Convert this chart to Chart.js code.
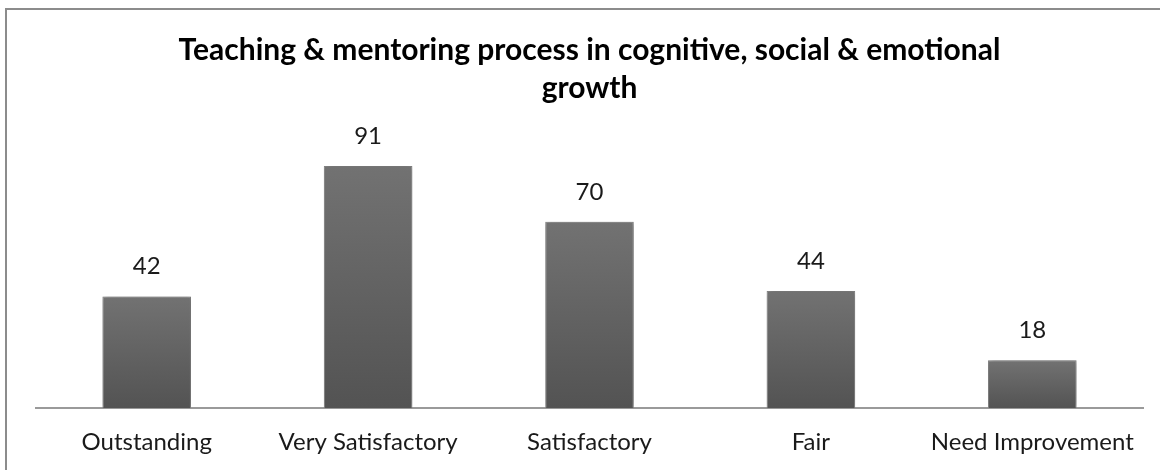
<!DOCTYPE html>
<html>
<head>
<meta charset="utf-8">
<script src="https://cdn.jsdelivr.net/npm/chart.js@4.4.1/dist/chart.umd.min.js"></script>
<style>
  html, body { margin: 0; padding: 0; background: #fff; }
  #wrap { position: relative; width: 1160px; height: 470px; overflow: hidden; }
  #frame { position: absolute; left: 5px; top: 8px; width: 1200px; height: 500px; border: 2px solid #8c8c8c; box-sizing: border-box; }
  #c { position: absolute; left: 0; top: 0; }
</style>
</head>
<body>
<div id="wrap">
  <div id="frame"></div>
  <canvas id="c" width="1160" height="477"></canvas>
</div>
<script>
const categories = ["Outstanding", "Very Satisfactory", "Satisfactory", "Fair", "Need Improvement"];
const values = [42, 91, 70, 44, 18];
const titleLines = ["Teaching & mentoring process in cognitive, social & emotional", "growth"];

const shadowPlugin = {
  id: 'barShadow',
  beforeDatasetsDraw(chart) {
    const ctx = chart.ctx;
    ctx.save();
    ctx.shadowColor = 'rgba(0,0,0,0.35)';
    ctx.shadowBlur = 6;
    ctx.shadowOffsetX = 1;
    ctx.shadowOffsetY = 0;
  },
  afterDatasetsDraw(chart) {
    chart.ctx.restore();
  }
};

const valueLabels = {
  id: 'valueLabels',
  afterDatasetsDraw(chart) {
    const ctx = chart.ctx;
    const meta = chart.getDatasetMeta(0);
    ctx.save();
    ctx.font = '24px Lato';
    ctx.fillStyle = '#1a1a1a';
    ctx.textAlign = 'center';
    ctx.textBaseline = 'middle';
    meta.data.forEach((bar, i) => {
      ctx.fillText(String(chart.data.datasets[0].data[i]), bar.x, bar.y - 30);
    });
    ctx.restore();
  }
};

new Chart(document.getElementById('c'), {
  type: 'bar',
  data: {
    labels: categories,
    datasets: [{
      data: values,
      backgroundColor: (c) => {
        const chart = c.chart;
        const area = chart.chartArea;
        if (!area || c.raw === undefined) return '#666';
        const top = chart.scales.y.getPixelForValue(c.raw);
        const g = chart.ctx.createLinearGradient(0, top, 0, area.bottom);
        g.addColorStop(0, '#727272');
        g.addColorStop(1, '#535353');
        return g;
      },
      borderColor: '#8a8a8a',
      borderWidth: 1,
      borderSkipped: 'bottom',
      barPercentage: 0.4,
      categoryPercentage: 1.0
    }]
  },
  options: {
    responsive: false,
    animation: false,
    devicePixelRatio: 1,
    layout: { padding: { left: 36, right: 17, top: 0, bottom: 0 } },
    plugins: {
      legend: { display: false },
      tooltip: { enabled: false },
      title: {
        display: true,
        text: titleLines,
        color: '#000',
        font: { family: 'Lato', size: 30, weight: 'bold', lineHeight: 38 / 30 },
        padding: { top: 31, bottom: 35 }
      }
    },
    scales: {
      x: {
        grid: { display: true, drawOnChartArea: false, drawTicks: false },
        border: { display: true, color: '#9a9a9a', width: 2 },
        ticks: { color: '#1a1a1a', font: { family: 'Lato', size: 24 }, padding: 20, maxRotation: 0, autoSkip: false }
      },
      y: {
        display: false,
        min: 0,
        max: 100
      }
    }
  },
  plugins: [shadowPlugin, valueLabels]
});
</script>
</body>
</html>
